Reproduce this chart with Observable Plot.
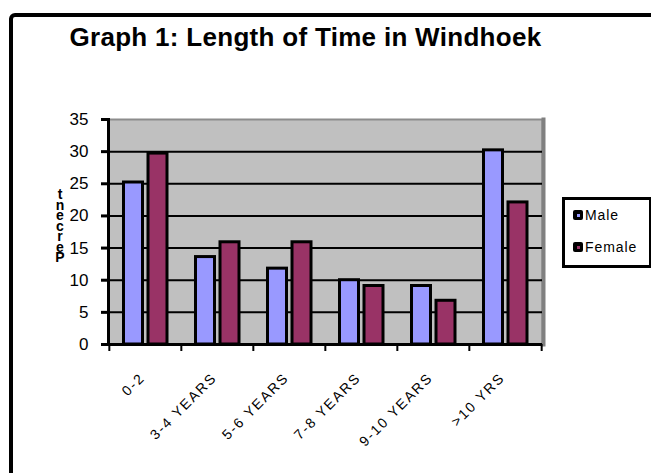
<!DOCTYPE html>
<html>
<head>
<meta charset="utf-8">
<script src="https://cdn.jsdelivr.net/npm/d3@7"></script>
<script src="https://cdn.jsdelivr.net/npm/@observablehq/plot@0.6"></script>
<style>
  html, body { margin: 0; padding: 0; background: #fff; overflow: hidden; }
  #wrap { position: relative; width: 651px; height: 473px; overflow: hidden; font-family: "Liberation Sans", Arial, sans-serif; }
  #wrap svg { position: absolute; left: 0; top: 0; }
  #wrap svg [aria-label="x-axis tick label"] text { letter-spacing: 1.8px; }
  #frame { position: absolute; left: 9px; top: 13px; width: 700px; height: 520px; border: 4px solid #000; border-radius: 6px; box-sizing: border-box; }
  #title { position: absolute; left: 0; width: 611px; top: 22px; line-height: 30px; text-align: center; font-weight: bold; font-size: 26px; letter-spacing: 0.3px; color: #000; white-space: nowrap; }
  #ylabel { position: absolute; left: 53px; top: 189px; width: 14px; font-weight: bold; font-size: 14px; line-height: 10.5px; text-align: center; white-space: pre-line; }
  #legend { position: absolute; left: 562px; top: 197px; width: 90px; height: 71px; border: 3px solid #000; box-sizing: border-box; background: #fff; }
  .li { position: absolute; left: 8px; font-size: 14px; display: flex; align-items: center; letter-spacing: 0.9px; }
  .sw { width: 10px; height: 10px; background: #000; border-radius: 2px; margin-right: 2px; display: flex; align-items: center; justify-content: center; }
  .sw span { width: 3px; height: 3px; display: block; }
</style>
</head>
<body>
<div id="wrap">
  <div id="frame"></div>
  <div id="title"></div>
  <div id="ylabel"></div>
  <div id="legend"></div>
</div>
<script>
const categories = ["0-2", "3-4 YEARS", "5-6 YEARS", "7-8 YEARS", "9-10 YEARS", ">10 YRS"];
const maleValues = [25.2, 13.6, 11.8, 10.0, 9.1, 30.2];
const femaleValues = [29.7, 15.9, 15.9, 9.1, 6.8, 22.1];
const seriesNames = ["Male", "Female"];
const seriesColors = ["#9999ff", "#993366"];
const yTicks = [0, 5, 10, 15, 20, 25, 30, 35];
const titleText = "Graph 1: Length of Time in Windhoek";
const yLabelText = "Percent";

const W = 651, H = 473, ML = 108, MR = 109, MT = 119, MB = 129;
const bw = (W - ML - MR) / categories.length;

const maleRows = categories.map((c, i) => ({cat: c, value: maleValues[i]}));
const femaleRows = categories.map((c, i) => ({cat: c, value: femaleValues[i]}));

const chart = Plot.plot({
  width: W, height: H,
  marginLeft: ML, marginRight: MR, marginTop: MT, marginBottom: MB,
  style: {fontFamily: "Liberation Sans, Arial, sans-serif", background: "transparent", color: "#000"},
  x: {domain: categories, padding: 0, label: null},
  y: {domain: [0, 35], label: null},
  marks: [
    Plot.frame({fill: "#c0c0c0", stroke: "#8c8c8c", strokeWidth: 2}),
    Plot.frame({anchor: "right", stroke: "#808080", strokeWidth: 4, dx: 1}),
    Plot.gridY(yTicks.filter(d => d > 0 && d < 35), {stroke: "#000", strokeOpacity: 1, strokeWidth: 2}),
    Plot.barY(maleRows, {x: "cat", y: "value", fill: seriesColors[0], stroke: "#000", strokeWidth: 3, insetLeft: 14.5, insetRight: 38.5}),
    Plot.barY(femaleRows, {x: "cat", y: "value", fill: seriesColors[1], stroke: "#000", strokeWidth: 3, insetLeft: 39, insetRight: 14}),
    Plot.ruleY([0], {stroke: "#000", strokeWidth: 3}),
    Plot.frame({anchor: "left", stroke: "#000", strokeWidth: 3}),
    Plot.axisY({ticks: yTicks, tickSize: 7, tickPadding: 13, fontSize: 17, strokeWidth: 3, label: null}),
    Plot.axisX({tickSize: 0, tickPadding: 31, tickRotate: -45, fontSize: 14, dx: -3, label: null}),
    Plot.axisX({tickSize: 7, text: null, dx: -bw / 2, strokeWidth: 2, label: null}),
    Plot.axisX(categories.slice(-1), {tickSize: 7, text: null, dx: bw / 2, strokeWidth: 2, label: null})
  ]
});
document.getElementById("wrap").appendChild(chart);

document.getElementById("title").textContent = titleText;
document.getElementById("ylabel").textContent = yLabelText.split("").reverse().join("\n");

const legend = document.getElementById("legend");
seriesNames.forEach((name, i) => {
  const item = document.createElement("div");
  item.className = "li";
  item.style.top = (i === 0 ? 7 : 39) + "px";
  item.innerHTML = `<div class="sw"><span style="background:${seriesColors[i]}"></span></div>${name}`;
  legend.appendChild(item);
});
</script>
</body>
</html>
